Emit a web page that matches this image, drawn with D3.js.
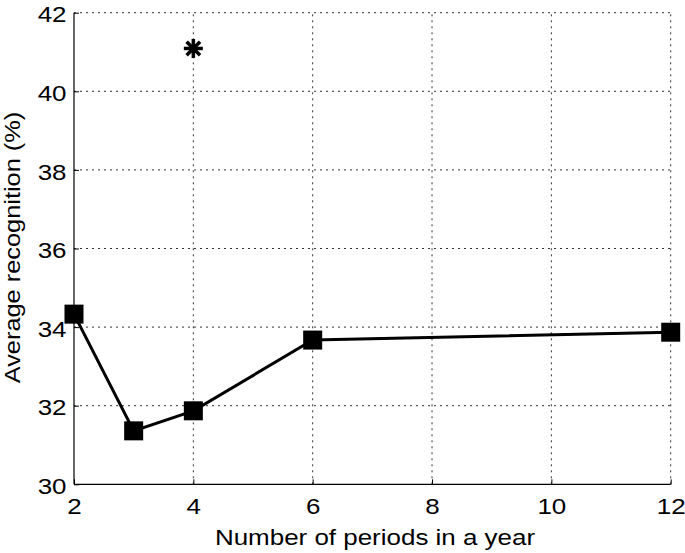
<!DOCTYPE html>
<html><head><meta charset="utf-8">
<script src="https://cdn.jsdelivr.net/npm/d3@7"></script>
<style>body{margin:0;background:#fff}svg{display:block}text{font-family:"Liberation Sans",Arial,sans-serif;fill:#000}</style>
</head><body><svg id="c" width="685" height="553"></svg>
<script>
const periods = [2, 3, 4, 6, 12];
const recognition = [34.33, 31.36, 31.87, 33.67, 33.87];
const starPeriod = [4];
const starValue = [41.09];
const xTicks = [2, 4, 6, 8, 10, 12];
const yTicks = [30, 32, 34, 36, 38, 40, 42];
const xTitle = "Number of periods in a year";
const yTitle = "Average recognition (%)";

const SX = 1.18; // horizontal stretch of the reference lettering
const svg = d3.select("#c");
const L = 74, R = 670.7, T = 12.7, B = 484.3;
const x = d3.scaleLinear().domain([2, 12]).range([L, R]);
const y = d3.scaleLinear().domain([30, 42]).range([B, T]);

// grid
const g = svg.append("g");
g.selectAll(".gx").data(xTicks.slice(1)).enter().append("line")
  .attr("x1", d => x(d)).attr("x2", d => x(d)).attr("y1", B).attr("y2", T)
  .attr("stroke", "#333").attr("stroke-width", 1).attr("stroke-dasharray", "2,4");
g.selectAll(".gy").data(yTicks.slice(1)).enter().append("line")
  .attr("y1", d => y(d)).attr("y2", d => y(d)).attr("x1", L).attr("x2", R)
  .attr("stroke", "#333").attr("stroke-width", 1).attr("stroke-dasharray", "2,4");

// axes
const xAxis = d3.axisBottom(x).tickValues(xTicks).tickSize(-5).tickPadding(14).tickFormat(d3.format("d"));
const yAxis = d3.axisLeft(y).tickValues(yTicks).tickSize(-5).tickPadding(7.5).tickFormat(d3.format("d"));
const ax = svg.append("g").attr("transform", `translate(0,${B})`).call(xAxis);
const ay = svg.append("g").attr("transform", `translate(${L},0)`).call(yAxis);
[ax, ay].forEach(a => {
  a.select(".domain").attr("stroke", "#000").attr("stroke-width", 1.2);
  a.selectAll(".tick line").attr("stroke", "#000");
  a.selectAll(".tick text").style("font-size", "22px").attr("fill", "#000");
});
ax.selectAll(".tick text").attr("transform", `scale(${SX},1)`);
ay.selectAll(".tick text").attr("dy", "0.42em").attr("x", -7.5 / SX).attr("transform", `scale(${SX},1)`);
ax.select(".domain").attr("d", `M${L},0H${R}`);
ay.select(".domain").attr("d", `M0,${B}V${T}`);

// line
const pts = periods.map((p, i) => [p, recognition[i]]);
svg.append("path").datum(pts)
  .attr("d", d3.line().x(d => x(d[0])).y(d => y(d[1])))
  .attr("fill", "none").attr("stroke", "#000").attr("stroke-width", 3);
svg.selectAll(".sq").data(pts).enter().append("rect")
  .attr("x", d => x(d[0]) - 9.5).attr("y", d => y(d[1]) - 9.5)
  .attr("width", 19).attr("height", 19).attr("fill", "#000");

// star
const stars = starPeriod.map((p, i) => [p, starValue[i]]);
stars.forEach(s => {
  const cx = x(s[0]), cy = y(s[1]), r = 9.5;
  const sg = svg.append("g");
  [0, 45, 90, 135].forEach(a => {
    const rad = a * Math.PI / 180;
    sg.append("line")
      .attr("x1", cx - r * Math.cos(rad)).attr("y1", cy - r * Math.sin(rad))
      .attr("x2", cx + r * Math.cos(rad)).attr("y2", cy + r * Math.sin(rad))
      .attr("stroke", "#000").attr("stroke-width", 3.5);
  });
});

// titles
svg.append("g").attr("transform", `translate(375,545) scale(${SX},1)`)
  .append("text").attr("text-anchor", "middle").style("font-size", "22px").text(xTitle);
svg.append("g").attr("transform", `translate(20,247.5) rotate(-90) scale(${SX},1)`)
  .append("text").attr("text-anchor", "middle").style("font-size", "21.5px").text(yTitle);
</script></body></html>
